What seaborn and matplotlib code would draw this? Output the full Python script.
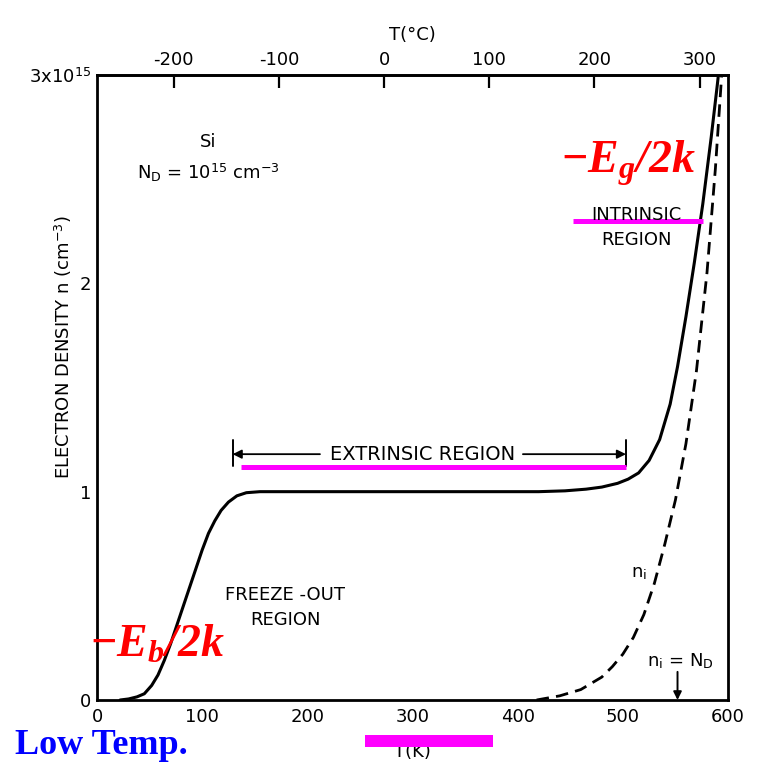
import numpy as np
import pandas as pd
import matplotlib
matplotlib.use("Agg")
import matplotlib.pyplot as plt
import seaborn as sns
from matplotlib.patches import Rectangle

# ---------------- data ----------------
T_n = [22, 30, 38, 45, 52, 58, 64, 70, 76, 82, 88, 94, 100, 106, 112, 118, 125, 133,
       142, 155, 250, 350, 420, 445, 465, 480, 495, 505, 515, 525, 535, 545, 552, 560,
       568, 576, 584, 590, 593]
n_vals = [0.0, 0.005, 0.015, 0.03, 0.07, 0.12, 0.19, 0.27, 0.36, 0.45, 0.54, 0.63,
          0.72, 0.80, 0.86, 0.91, 0.95, 0.98, 0.995, 1.0, 1.0, 1.0, 1.0, 1.004, 1.012,
          1.022, 1.04, 1.06, 1.09, 1.15, 1.25, 1.42, 1.60, 1.84, 2.10, 2.38, 2.70,
          2.96, 3.10]
T_ni = [418, 440, 460, 480, 490, 500, 510, 520, 530, 540, 550, 560, 570, 580, 588,
        594, 597]
ni_vals = [0.0, 0.02, 0.05, 0.11, 0.16, 0.22, 0.30, 0.41, 0.56, 0.75, 0.96, 1.23,
           1.58, 2.05, 2.55, 3.0, 3.2]

x_ticks = [0, 100, 200, 300, 400, 500, 600]
x_ticklabels = ["0", "100", "200", "300", "400", "500", "600"]
y_ticks = [0, 0.5, 1, 1.5, 2, 2.5, 3]
y_ticklabels = ["0", "", "1", "", "2", "", r"3x10$^\mathsf{15}$"]
c_ticks = [-200, -100, 0, 100, 200, 300]

df_n = pd.DataFrame({"T": T_n, "n": n_vals})
df_ni = pd.DataFrame({"T": T_ni, "n": ni_vals})

# ---------------- style ----------------
sns.set_theme(style="white")
plt.rcParams["font.family"] = ["DejaVu Sans"]
plt.rcParams["text.color"] = "black"
plt.rcParams["axes.labelcolor"] = "black"
plt.rcParams["xtick.color"] = "black"
plt.rcParams["ytick.color"] = "black"
plt.rcParams["mathtext.fontset"] = "custom"
plt.rcParams["mathtext.rm"] = "Liberation Serif:italic:bold"
plt.rcParams["mathtext.it"] = "Liberation Serif:italic:bold"
plt.rcParams["mathtext.sf"] = "DejaVu Sans"
plt.rcParams["mathtext.bf"] = "DejaVu Sans:bold"

fig = plt.figure(figsize=(7.63, 7.72), dpi=100)
fig.patch.set_facecolor("white")
ax = fig.add_axes([97 / 763, 1 - 700 / 772, (728 - 97) / 763, (700 - 75) / 772])
ax.set_facecolor("white")

sns.lineplot(data=df_n, x="T", y="n", ax=ax, color="black", lw=2.2,
             sort=False, estimator=None)
sns.lineplot(data=df_ni, x="T", y="n", ax=ax, color="black", lw=2.0,
             sort=False, estimator=None)
ax.lines[-1].set_dashes([4.5, 2.6])

ax.set_xlim(0, 600)
ax.set_ylim(0, 3)

for s in ax.spines.values():
    s.set_visible(True)
    s.set_linewidth(2.0)
    s.set_color("black")

ax.set_xticks(x_ticks)
ax.set_xticklabels(x_ticklabels)
ax.set_yticks(y_ticks)
ax.set_yticklabels(y_ticklabels)
ax.tick_params(axis="both", direction="in", length=9, width=1.6, colors="black",
               labelsize=13)
ax.tick_params(axis="x", pad=6)
ax.tick_params(axis="y", pad=4)
ax.set_xlabel("T(K)", fontsize=13, labelpad=12)
ax.set_ylabel("")

# top axis in Celsius
sec = ax.secondary_xaxis("top", functions=(lambda x: x - 273, lambda x: x + 273))
sec.set_xticks(c_ticks)
sec.set_xticklabels([str(c) for c in c_ticks])
sec.tick_params(direction="in", length=9, width=1.6, labelsize=13, pad=4,
                colors="black")
sec.spines["top"].set_linewidth(2.0)
sec.set_xlabel("T(°C)", fontsize=13, labelpad=8)

# y label
fig.text(63 / 763, 1 - 347 / 772, r"ELECTRON DENSITY n (cm$^\mathsf{-3}$)",
         rotation=90, ha="center", va="center", fontsize=13)

# ---------------- annotations ----------------
ax.text(106, 2.68, "Si", ha="center", va="center", fontsize=13)
ax.text(106, 2.53, r"N$_\mathsf{D}$ = 10$^\mathsf{15}$ cm$^\mathsf{-3}$",
        ha="center", va="center", fontsize=13)

ax.text(513, 2.33, "INTRINSIC", ha="center", va="center", fontsize=13)
ax.text(513, 2.21, "REGION", ha="center", va="center", fontsize=13)

ax.text(179, 0.505, "FREEZE -OUT", ha="center", va="center", fontsize=13)
ax.text(179, 0.385, "REGION", ha="center", va="center", fontsize=13)

ax.text(310, 1.18, "EXTRINSIC REGION", ha="center", va="center", fontsize=14)
arrow_kw = dict(arrowstyle="-|>", color="black", lw=1.3, mutation_scale=13,
                shrinkA=0, shrinkB=0)
ax.annotate("", xy=(129, 1.18), xytext=(212, 1.18), arrowprops=arrow_kw)
ax.annotate("", xy=(503, 1.18), xytext=(405, 1.18), arrowprops=arrow_kw)
ax.plot([129, 129], [1.125, 1.25], color="black", lw=1.4)
ax.plot([503, 503], [1.125, 1.25], color="black", lw=1.4)

ax.text(515, 0.61, r"n$_\mathsf{i}$", ha="center", va="center", fontsize=13)
ax.text(555, 0.185, r"n$_\mathsf{i}$ = N$_\mathsf{D}$", ha="center", va="center",
        fontsize=13)
ax.annotate("", xy=(552, 0.0), xytext=(552, 0.135),
            arrowprops=dict(arrowstyle="-|>", color="black", lw=1.4,
                            mutation_scale=12, shrinkA=0, shrinkB=0))

# magenta highlight lines
ax.plot([453, 576], [2.298, 2.298], color="#FF00FF", lw=3.6, solid_capstyle="butt")
ax.plot([137, 503], [1.12, 1.12], color="#FF00FF", lw=3.6, solid_capstyle="butt")

# red energy labels
ax.text(440, 2.53, r"$-E_g/2k$", color="#FF0000", fontsize=33,
        ha="left", va="baseline")
ax.text(-8, 0.207, r"$-E_b/2k$", color="#FF0000", fontsize=33,
        ha="left", va="baseline", clip_on=False, zorder=5)

# bottom magenta bar and blue label
fig.add_artist(Rectangle((365 / 763, 1 - 747 / 772), (493 - 365) / 763, 12 / 772,
                         transform=fig.transFigure, facecolor="#FF00FF",
                         edgecolor="none", zorder=10))
fig.text(15 / 763, 1 - 745 / 772, "Low Temp.", color="#0000FF", fontsize=26,
         fontfamily="Liberation Serif", fontweight="bold", ha="left", va="center")

fig.savefig("out.png", dpi=100, facecolor="white")
